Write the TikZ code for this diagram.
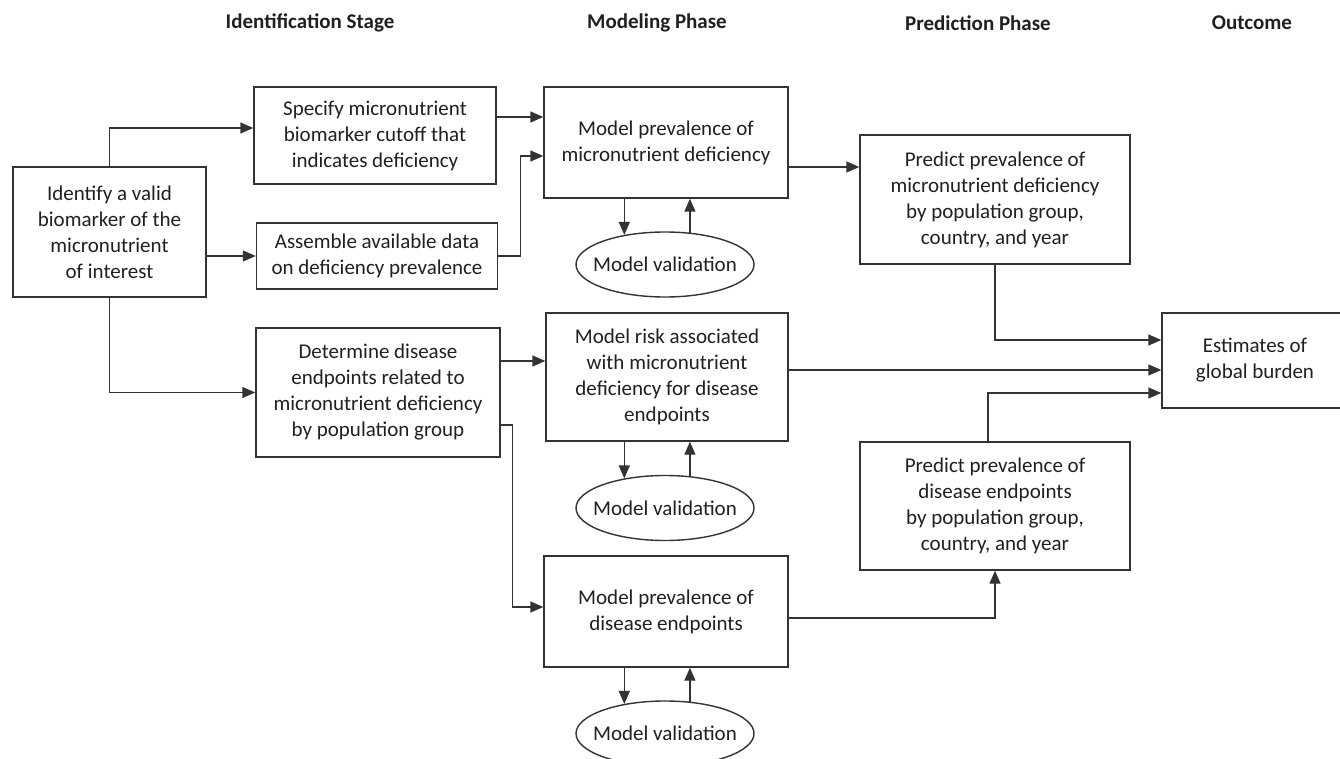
\documentclass[tikz,border=0pt]{standalone}
\usepackage{fontspec}
\setmainfont{Carlito}
\usetikzlibrary{arrows.meta,shapes.geometric}
\definecolor{ink}{HTML}{231F20}
\definecolor{edge}{HTML}{333333}
\tikzset{
  box/.style={draw=edge, line width=1.4pt, rectangle, inner sep=0pt, align=center, text=ink,
              font=\fontsize{21}{26}\selectfont},
  valell/.style={draw=edge, line width=1.4pt, ellipse, inner sep=0pt, minimum width=178pt,
              minimum height=65pt, text=ink, font=\fontsize{21}{26}\selectfont},
  head/.style={text=ink, font=\fontsize{21}{26}\selectfont\bfseries},
  arr/.style={draw=edge, line width=1.4pt, -{Triangle[length=13pt,width=11pt]}},
}
\newcommand{\valtext}{\makebox[0pt]{Model validation}}
\begin{document}
\begin{tikzpicture}[x=1pt,y=-1pt]
\clip (0,0) rectangle (1340,759);
\useasboundingbox (0,0) rectangle (1340,759);
\fill[white] (0,0) rectangle (1340,759);

% headers
\node[head] (h1) at (310,23) {Identification Stage};
\node[head] (h2) at (657,23) {Modeling Phase};
\node[head] (h3) at (978,23) {Prediction Phase};
\node[head] (h4) at (1252,23) {Outcome};

% boxes
\node[box, minimum width=193pt, minimum height=130pt] (ident) at (109.5,232)
  {Identify a valid\\biomarker of the\\micronutrient\\of interest};
\node[box, minimum width=242pt, minimum height=97pt] (spec) at (375,135.5)
  {Specify micronutrient\\biomarker cutoff that\\indicates deficiency};
\node[box, minimum width=241pt, minimum height=66pt] (assem) at (377,256)
  {Assemble available data\\on deficiency prevalence};
\node[box, minimum width=244pt, minimum height=129pt] (det) at (378,392.5)
  {Determine disease\\endpoints related to\\micronutrient deficiency\\by population group};

\node[box, minimum width=244pt, minimum height=111pt] (mpm) at (666,142.5)
  {Model prevalence of\\micronutrient deficiency};
\node[valell] (val1) at (665,264.5) {\valtext};
\node[box, minimum width=242pt, minimum height=128pt] (mrisk) at (667,377)
  {Model risk associated\\with micronutrient\\deficiency for disease\\endpoints};
\node[valell] (val2) at (665,508) {\valtext};
\node[box, minimum width=244pt, minimum height=111pt] (mpd) at (666,611.5)
  {Model prevalence of\\disease endpoints};
\node[valell] (val3) at (665,733.5) {\valtext};

\node[box, minimum width=270pt, minimum height=129pt] (pred1) at (995,199.5)
  {Predict prevalence of\\micronutrient deficiency\\by population group,\\country, and year};
\node[box, minimum width=270pt, minimum height=128pt] (pred2) at (995,506)
  {Predict prevalence of\\disease endpoints\\by population group,\\country, and year};

\node[box, minimum width=186pt, minimum height=95pt] (est) at (1255,360.5)
  {Estimates of\\global burden};

% connectors: identification stage
\draw[arr] (ident.north) |- ([yshift=7.5pt]spec.west);
\draw[arr] (ident.east |- assem.west) -- (assem.west);
\draw[arr] (ident.south) |- (det.west);
\draw[arr] ([yshift=18.5pt]spec.east) -- ([yshift=18.5pt]spec.east -| mpm.west);
\draw[arr] (assem.east) -- ++(22.5,0) |- ([yshift=-13.5pt]mpm.west);
\draw[arr] ([yshift=31.5pt]det.east) -- ([yshift=31.5pt]det.east -| mrisk.west);
\draw[arr] ([yshift=-32.5pt]det.east) -- ++(12,0) |- ([yshift=4.5pt]mpd.west);

% validation loops
\draw[arr] (val1.144 |- mpm.south) -- (val1.144);
\draw[arr] (val1.52.5) -- (val1.52.5 |- mpm.south);
\draw[arr] (val2.144 |- mrisk.south) -- (val2.144);
\draw[arr] (val2.52.5) -- (val2.52.5 |- mrisk.south);
\draw[arr] (val3.144 |- mpd.south) -- (val3.144);
\draw[arr] (val3.52.5) -- (val3.52.5 |- mpd.south);

% modeling -> prediction / outcome
\draw[arr] ([yshift=-24.5pt]mpm.east) -- ([yshift=-24.5pt]mpm.east -| pred1.west);
\draw[arr] ([yshift=7pt]mrisk.east) -- ([yshift=7pt]mrisk.east -| est.west);
\draw[arr] ([yshift=-6.5pt]mpd.east) -| (pred2.south);
\draw[arr] (pred1.south) |- ([yshift=20.5pt]est.west);
\draw[arr] ([xshift=-7pt]pred2.north) |- ([yshift=-32.5pt]est.west);
\end{tikzpicture}
\end{document}
